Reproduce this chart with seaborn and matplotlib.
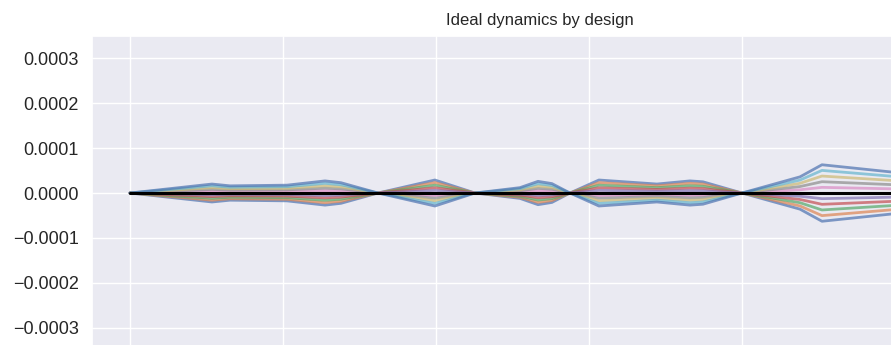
import numpy as np
import pandas as pd
import matplotlib
matplotlib.use("Agg")
import matplotlib.pyplot as plt
import seaborn as sns

# Time samples (s) and the envelope of the response for a unit gain
time = [0.0, 0.536, 0.654, 1.026, 1.275, 1.379, 1.621, 1.993, 2.255, 2.549,
        2.667, 2.758, 2.876, 3.065, 3.444, 3.660, 3.745, 4.0, 4.379, 4.523, 5.0]
envelope = [0.0, 2.0e-5, 1.6e-5, 1.75e-5, 2.7e-5, 2.3e-5, 0.0, -2.9e-5, 0.0, 1.2e-5,
            2.6e-5, 2.1e-5, 0.0, -2.9e-5, -2.0e-5, -2.7e-5, -2.5e-5, 0.0, 3.6e-5, 6.3e-5, 4.6e-5]

# Gain applied to the envelope for each trajectory
gains = [-1.0, -0.8, -0.6, -0.4, -0.2, 0.0, 0.2, 0.4, 0.6, 0.8, 1.0]

y_ticks = [-0.0003, -0.0002, -0.0001, 0.0, 0.0001, 0.0002, 0.0003]
title = "Ideal dynamics by design"

sns.set_theme(style="darkgrid")
plt.rcParams["font.family"] = ["Liberation Sans", "DejaVu Sans"]

rows = []
for k, g in enumerate(gains):
    for t, e in zip(time, envelope):
        rows.append({"t": t, "value": g * e, "run": k})
df = pd.DataFrame(rows)
ref = pd.DataFrame({"t": time, "value": np.zeros(len(time))})

fig = plt.figure(figsize=(8.91, 3.45), dpi=100)
ax = fig.add_axes([92 / 891, -0.0145, 896 / 891, 0.9101])

sns.lineplot(data=df, x="t", y="value", hue="run",
             palette=sns.color_palette("deep", len(gains)),
             linewidth=2.0, alpha=0.7, legend=False, ax=ax)
sns.lineplot(data=ref, x="t", y="value", color="black", linewidth=2.2, ax=ax)

ax.set_xlim(-0.248, 5.608)
ax.set_ylim(-3.5e-4, 3.5e-4)
ax.set_xticks([0, 1, 2, 3, 4, 5])
ax.set_xticklabels([])
ax.set_yticks(y_ticks)
ax.set_yticklabels([f"{v:.4f}".replace("-", "\u2212") if v != 0 else "0.0000" for v in y_ticks])
ax.tick_params(axis="y", labelsize=13)
ax.set_xlabel("")
ax.set_ylabel("")
ax.set_title(title, fontsize=12, pad=8)

fig.savefig("out.png", dpi=100)
